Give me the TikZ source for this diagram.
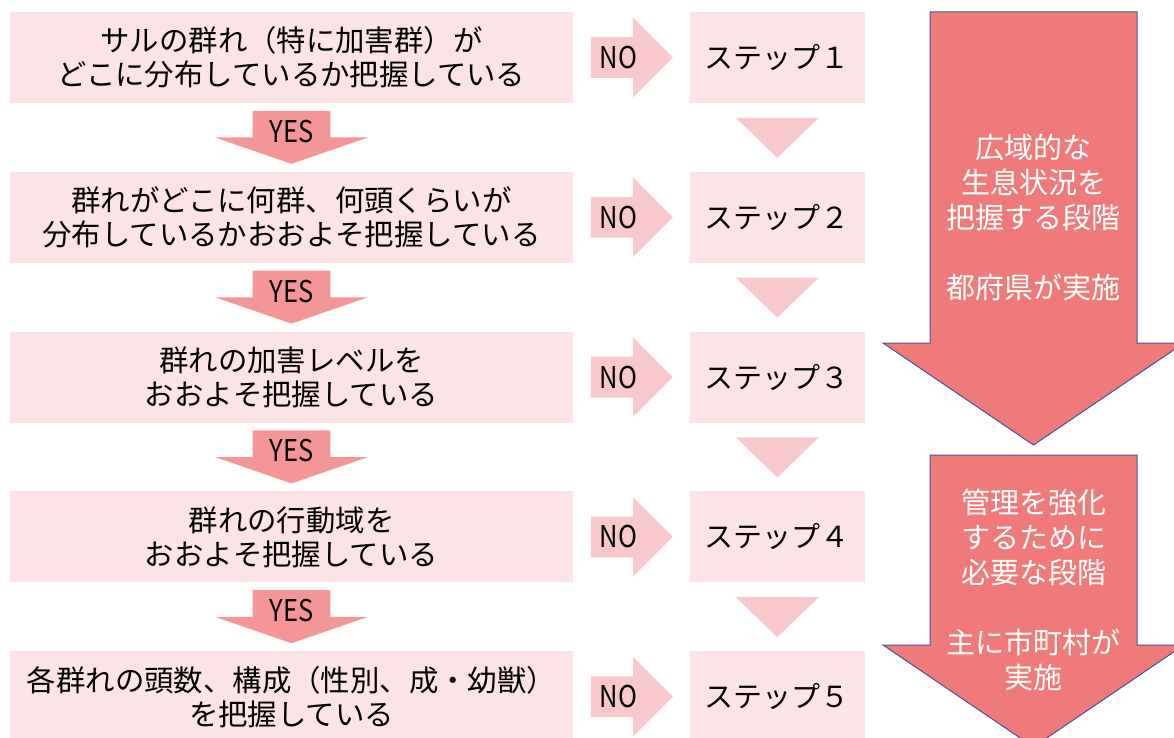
\documentclass[tikz,border=0pt]{standalone}
\usepackage{fontspec}
\setmainfont{Noto Sans CJK JP}
\newfontfamily\narrowfont[FakeStretch=0.85]{Noto Sans CJK JP}
\usepackage{xcolor}
\usetikzlibrary{calc,positioning,shapes.arrows,shapes.geometric}
\definecolor{boxpink}{RGB}{252,228,230}
\definecolor{palearrow}{RGB}{248,200,204}
\definecolor{yesred}{RGB}{244,150,152}
\definecolor{bigred}{RGB}{240,122,122}
\definecolor{edgeblue}{RGB}{70,84,150}

\begin{document}
\begin{tikzpicture}[x=0.5pt,y=-0.5pt,node distance=34pt]
  \tikzstyle{question}=[fill=boxpink,minimum width=281.5pt,minimum height=45.5pt,align=center,font=\fontsize{14.7}{17}\selectfont]
  \tikzstyle{stepbox}=[fill=boxpink,minimum width=87.5pt,minimum height=45.5pt,font=\fontsize{14.5}{17}\selectfont]
  \tikzstyle{noarrow}=[single arrow,fill=palearrow,anchor=tail,minimum width=39.5pt,minimum height=41pt,single arrow head extend=9.75pt,inner xsep=0pt,inner ysep=10pt]
  \tikzstyle{yesarrow}=[single arrow,shape border rotate=270,fill=yesred,anchor=tail,minimum width=76pt,minimum height=26.5pt,single arrow head extend=18.75pt,single arrow tip angle=142,inner xsep=19.25pt,inner ysep=0pt]
  \tikzstyle{answer}=[inner sep=0pt,font=\narrowfont\fontsize{15}{15}\selectfont]
  \tikzstyle{down}=[isosceles triangle,isosceles triangle stretches,shape border rotate=270,fill=palearrow,anchor=north,minimum width=41.5pt,minimum height=20pt,inner sep=0pt]
  \tikzstyle{stage}=[draw=edgeblue,line width=0.5pt,fill=bigred]
  \tikzstyle{stagetext}=[text=white,align=center,font=\fontsize{14.5}{17.5}\selectfont]
  \useasboundingbox (0,0) rectangle (1174,738);
  \clip (0,0) rectangle (1174,738);

  % questions on the left
  \node[question] (q1) at (291.5,57.5) {サルの群れ（特に加害群）が\\どこに分布しているか把握している};
  \node[question] (q2) [below=of q1] {群れがどこに何群、何頭くらいが\\分布しているかおおよそ把握している};
  \node[question] (q3) [below=of q2] {群れの加害レベルを\\おおよそ把握している};
  \node[question] (q4) [below=of q3] {群れの行動域を\\おおよそ把握している};
  \node[question] (q5) [below=of q4] {各群れの頭数、構成（性別、成・幼獣）\\を把握している};

  % steps
  \node[stepbox] (s1) [right=58pt of q1] {ステップ１};
  \node[stepbox] (s2) [right=58pt of q2] {ステップ２};
  \node[stepbox] (s3) [right=58pt of q3] {ステップ３};
  \node[stepbox] (s4) [right=58pt of q4] {ステップ４};
  \node[stepbox] (s5) [right=58pt of q5] {ステップ５};

  % NO arrows
  \node[noarrow] (n1) at ($(q1.east)+(17,0)$) {};
  \node[noarrow] (n2) at ($(q2.east)+(17,0)$) {};
  \node[noarrow] (n3) at ($(q3.east)+(17,0)$) {};
  \node[noarrow] (n4) at ($(q4.east)+(17,0)$) {};
  \node[noarrow] (n5) at ($(q5.east)+(17,0)$) {};
  \node[answer] (no1) at ($(n1.tail)+(28,0)$) {NO};
  \node[answer] (no2) at ($(n2.tail)+(28,0)$) {NO};
  \node[answer] (no3) at ($(n3.tail)+(28,0)$) {NO};
  \node[answer] (no4) at ($(n4.tail)+(28,0)$) {NO};
  \node[answer] (no5) at ($(n5.tail)+(28,0)$) {NO};

  % YES arrows
  \node[yesarrow] (y1) at ($(q1.south)+(0,7)$) {};
  \node[yesarrow] (y2) at ($(q2.south)+(0,7)$) {};
  \node[yesarrow] (y3) at ($(q3.south)+(0,7)$) {};
  \node[yesarrow] (y4) at ($(q4.south)+(0,7)$) {};
  \node[answer] (yes1) at ($(y1.tail)+(0,21)$) {YES};
  \node[answer] (yes2) at ($(y2.tail)+(0,21)$) {YES};
  \node[answer] (yes3) at ($(y3.tail)+(0,21)$) {YES};
  \node[answer] (yes4) at ($(y4.tail)+(0,21)$) {YES};

  \node[down] (d1) at ($(s1.south)+(0,14)$) {};
  \node[down] (d2) at ($(s2.south)+(0,14)$) {};
  \node[down] (d3) at ($(s3.south)+(0,14)$) {};
  \node[down] (d4) at ($(s4.south)+(0,14)$) {};

  % stages on the right
  \draw[stage] (930,12) -- (1137,12) -- (1137,343) -- (1184,343) -- (1033.5,445) -- (883,343) -- (930,343) -- cycle;
  \draw[stage] (930,455) -- (1137,455) -- (1137,645) -- (1184,645) -- (1033.5,747) -- (883,645) -- (930,645) -- cycle;
  \node[stagetext] (wide) at (1033.5,217.5) {広域的な\\生息状況を\\把握する段階\\[17.5pt]都府県が実施};
  \node[stagetext] (local) at (1033.5,589.5) {管理を強化\\するために\\必要な段階\\[17.5pt]主に市町村が\\実施};
\end{tikzpicture}
\end{document}
